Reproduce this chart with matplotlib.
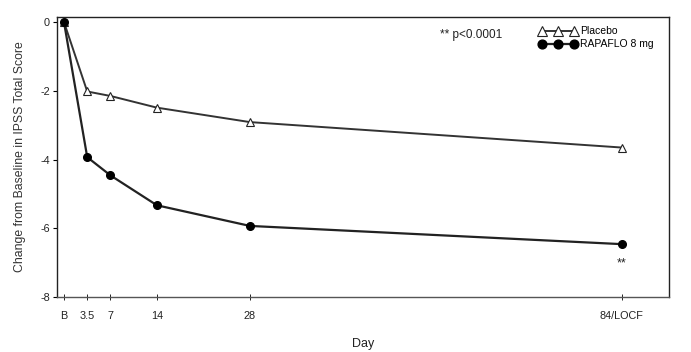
import matplotlib
matplotlib.use("Agg")
from matplotlib import pyplot as plt

plt.rcParams['font.family'] = ['Liberation Sans', 'DejaVu Sans']

# Days of measurement (B = baseline at 0, LOCF plotted at 84)
days = [0, 3.5, 7, 14, 28, 84]
day_labels = ['B', '3.5', '7', '14', '28', '84/LOCF']

# Mean change from baseline in IPSS total score
placebo = [0, -2.02, -2.15, -2.49, -2.91, -3.65]
rapaflo = [0, -3.93, -4.46, -5.33, -5.93, -6.46]

fig = plt.figure(figsize=(6.91, 3.52), dpi=100)
ax = fig.add_axes([0.0825, 0.156, 0.8855, 0.796])

# Plot placebo line with open triangles.
ax.plot(days, placebo, color='#333333', lw=1.4, marker='^', ms=6,
        mfc='white', mec='#222222', mew=0.8, label='Placebo')

# Plot RAPAFLO line with filled circles.
ax.plot(days, rapaflo, color='#222222', lw=1.6, marker='o', ms=5.5,
        mfc='black', mec='black', label='RAPAFLO 8 mg')

ax.set_xlim(-1.05, 91.1)
ax.set_ylim(-8, 0.15)
ax.set_xticks(days)
ax.set_xticklabels(day_labels, fontsize=7.8, color='#222222')
ax.set_yticks([0, -2, -4, -6, -8])
ax.set_yticklabels(['0', '-2', '-4', '-6', '-8'], fontsize=7.8, color='#222222')
ax.tick_params(axis='x', direction='inout', length=4, width=0.6, pad=8)
ax.tick_params(axis='y', direction='out', length=3, width=0.8, pad=2)

for s in ax.spines.values():
    s.set_linewidth(1.0)
    s.set_color('#222222')
ax.spines['bottom'].set_color('#555555')

ax.set_xlabel('Day', fontsize=9, labelpad=12, color='#222222')
ax.set_ylabel('Change from Baseline in IPSS Total Score', fontsize=8.8,
              labelpad=10, color='#333333')

# Significance marker and legend.
ax.text(days[-1], rapaflo[-1] - 0.55, '**', ha='center', va='center',
        fontsize=9, color='#222222')
ax.text(0.626, 0.935, '** p<0.0001', transform=ax.transAxes, fontsize=8.5,
        ha='left', va='center', color='#222222')
leg = ax.legend(loc='upper right', bbox_to_anchor=(0.99, 1.0), numpoints=3,
                frameon=False, fontsize=7.5, handlelength=3.6, handletextpad=0.3,
                labelspacing=0.3, markerscale=1.15)

plt.savefig('out.png', dpi=100)
